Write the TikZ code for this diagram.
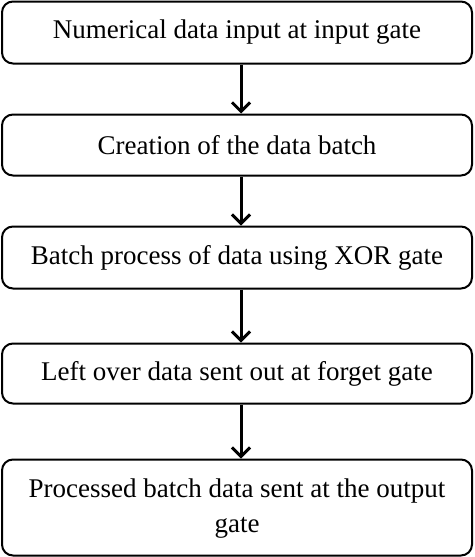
\documentclass[tikz,border=0pt]{standalone}
\usepackage{fontspec}
\setmainfont{Liberation Serif}
\usetikzlibrary{arrows.meta}
\begin{document}
\begin{tikzpicture}[x=1pt,y=-1pt,
  stepbox/.style={draw=black,line width=2pt,rounded corners=11pt,minimum width=470pt,inner sep=0pt,align=center,font=\fontsize{27}{35}\selectfont},
  flow/.style={line width=3pt,-{Straight Barb[length=9pt,width=18pt,line width=3pt]}}]
\useasboundingbox (0,0) rectangle (474,557);
\node[stepbox,minimum height=62pt] (b1) at (237,32.5) {Numerical data input at input gate};
\node[stepbox,minimum height=61pt] (b2) at (237,145) {Creation of the data batch};
\node[stepbox,minimum height=62pt] (b3) at (237,257.5) {Batch process of data using XOR gate};
\node[stepbox,minimum height=60pt] (b4) at (237,373.5) {Left over data sent out at forget gate};
\node[stepbox,minimum height=96pt] (b5) at (237,507.5) {\raisebox{-4pt}{\begin{tabular}{@{}c@{}}Processed batch data sent at the output\\gate\end{tabular}}};
\draw[flow] (b1.south -| 241,0) -- (b2.north -| 241,0);
\draw[flow] (b2.south -| 241,0) -- (b3.north -| 241,0);
\draw[flow] (b3.south -| 241,0) -- (b4.north -| 241,0);
\draw[flow] (b4.south -| 241,0) -- (b5.north -| 241,0);
\end{tikzpicture}
\end{document}
